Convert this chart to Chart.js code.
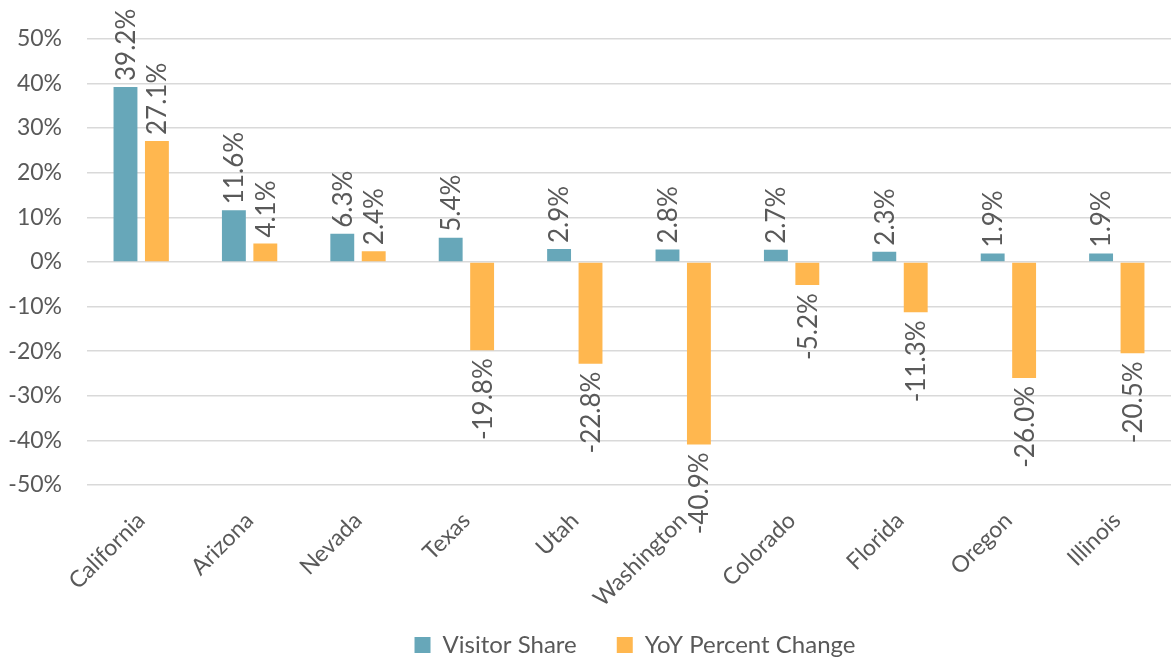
<!DOCTYPE html>
<html>
<head>
<meta charset="utf-8">
<script src="https://cdn.jsdelivr.net/npm/chart.js"></script>
<style>
  html, body { margin: 0; padding: 0; background: #fff; }
  .chart-container { width: 1171px; height: 659px; position: relative; }
</style>
</head>
<body>
<div class="chart-container">
  <canvas id="stateChart"></canvas>
</div>
<script>
  /* ---------- DATA ---------- */
  const states = ['California', 'Arizona', 'Nevada', 'Texas', 'Utah', 'Washington', 'Colorado', 'Florida', 'Oregon', 'Illinois'];
  const visitorShare = [39.2, 11.6, 6.3, 5.4, 2.9, 2.8, 2.7, 2.3, 1.9, 1.9];
  const yoyChange = [27.1, 4.1, 2.4, -19.8, -22.8, -40.9, -5.2, -11.3, -26.0, -20.5];
  const yTicks = [50, 40, 30, 20, 10, 0, -10, -20, -30, -40, -50];

  const FONT = 'Lato, "Open Sans", sans-serif';
  const TEXT = '#595959';

  // rotated value labels above / below each bar
  const barLabels = {
    id: 'barLabels',
    afterDatasetsDraw(chart) {
      const ctx = chart.ctx;
      ctx.save();
      ctx.font = '26px ' + FONT;
      ctx.fillStyle = TEXT;
      ctx.textBaseline = 'middle';
      chart.data.datasets.forEach((ds, i) => {
        chart.getDatasetMeta(i).data.forEach((bar, j) => {
          const v = ds.data[j];
          const txt = v.toFixed(1) + '%';
          ctx.save();
          ctx.translate(bar.x, v >= 0 ? bar.y - 6 : bar.y + 8);
          ctx.rotate(-Math.PI / 2);
          ctx.textAlign = v >= 0 ? 'left' : 'right';
          ctx.fillText(txt, 0, 1);
          ctx.restore();
        });
      });
      ctx.restore();
    }
  };

  // fixed legend height (item spacing would eat vertical room) and a small nudge right
  const legendTweak = {
    id: 'legendTweak',
    beforeInit(chart) {
      const legend = chart.legend;
      const fit = legend.fit;
      legend.fit = function () {
        fit.call(this);
        this.height = 66;
      };
      const draw = legend.draw;
      legend.draw = function () {
        this.ctx.save();
        this.ctx.translate(46, 0);
        draw.call(this);
        this.ctx.restore();
      };
    }
  };

  new Chart(document.getElementById('stateChart'), {
    type: 'bar',
    data: {
      labels: states,
      datasets: [
        { label: 'Visitor Share', data: visitorShare, backgroundColor: '#67a7b9' },
        { label: 'YoY Percent Change', data: yoyChange, backgroundColor: '#ffb74f' }
      ]
    },
    options: {
      responsive: true,
      maintainAspectRatio: false,
      animation: false,
      categoryPercentage: 0.58,
      barPercentage: 0.76,
      layout: { autoPadding: false, padding: { top: 27, left: 7, right: 0, bottom: 0 } },
      plugins: {
        legend: {
          position: 'bottom',
          labels: {
            font: { family: FONT, size: 24 },
            color: TEXT,
            boxWidth: 16,
            boxHeight: 16,
            padding: 40
          }
        },
        tooltip: { enabled: false }
      },
      scales: {
        x: {
          grid: { display: false },
          border: { display: false },
          ticks: {
            color: TEXT,
            font: { family: FONT, size: 23 },
            minRotation: 45,
            maxRotation: 45,
            autoSkip: false,
            padding: 14
          },
          afterFit: scale => {
            scale.height = 108;
            scale._computeLabelArea = () => undefined; // let long labels run past the box
          }
        },
        y: {
          min: -50,
          max: 50,
          afterBuildTicks: axis => { axis.ticks = yTicks.map(v => ({ value: v })); },
          afterFit: scale => { scale.width = 80; },
          grid: { color: '#d9d9d9', lineWidth: 1.5, drawTicks: false },
          border: { display: false },
          ticks: {
            color: TEXT,
            font: { family: FONT, size: 23 },
            padding: 25,
            callback: v => v + '%'
          }
        }
      }
    },
    plugins: [barLabels, legendTweak]
  });
</script>
</body>
</html>
